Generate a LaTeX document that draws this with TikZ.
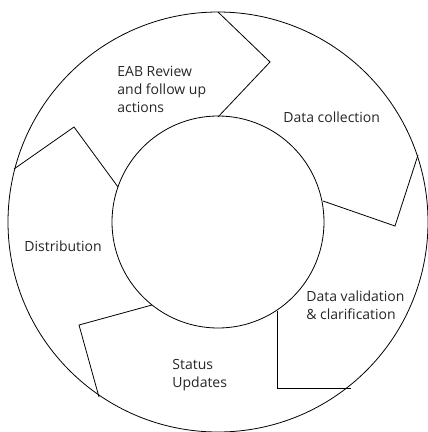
\documentclass[tikz,border=0pt]{standalone}
\usepackage{fontspec}
\setmainfont{Open Sans}
\begin{document}
\begin{tikzpicture}[x=1pt,y=-1pt,line width=0.8pt,
  lbl/.style={font=\fontsize{14}{18}\selectfont, align=left, inner sep=0pt, anchor=west, text=black!85}]
\useasboundingbox (0,0) rectangle (428,432);
\coordinate (C) at (218,222);
\draw (C) circle[radius=210];
\draw (C) circle[radius=106];
% separators
\coordinate (a1) at (218,12);  \coordinate (a2) at (270,62);  \coordinate (a3) at (218,117);
\coordinate (b1) at (418,155); \coordinate (b2) at (395,226); \coordinate (b3) at (323,201);
\coordinate (c1) at (277,311); \coordinate (c2) at (277,388); \coordinate (c3) at (351,388);
\coordinate (d1) at (152,305); \coordinate (d2) at (79,325);  \coordinate (d3) at (99,397);
\coordinate (e1) at (14,169);  \coordinate (e2) at (74,127);  \coordinate (e3) at (118,187);
\draw (a1) -- (a2) -- (a3);
\draw (b1) -- (b2) -- (b3);
\draw (c1) -- (c2) -- (c3);
\draw (d1) -- (d2) -- (d3);
\draw (e1) -- (e2) -- (e3);
% labels
\node[lbl] (eab) at (117,89) {EAB Review\\and follow up\\actions};
\node[lbl] (coll) at (283,117) {Data collection};
\node[lbl] (valid) at (306,305.5) {Data validation\\\& clarification};
\node[lbl] (stat) at (172,375) {Status\\Updates};
\node[lbl] (dist) at (24,246) {Distribution};
\end{tikzpicture}
\end{document}
